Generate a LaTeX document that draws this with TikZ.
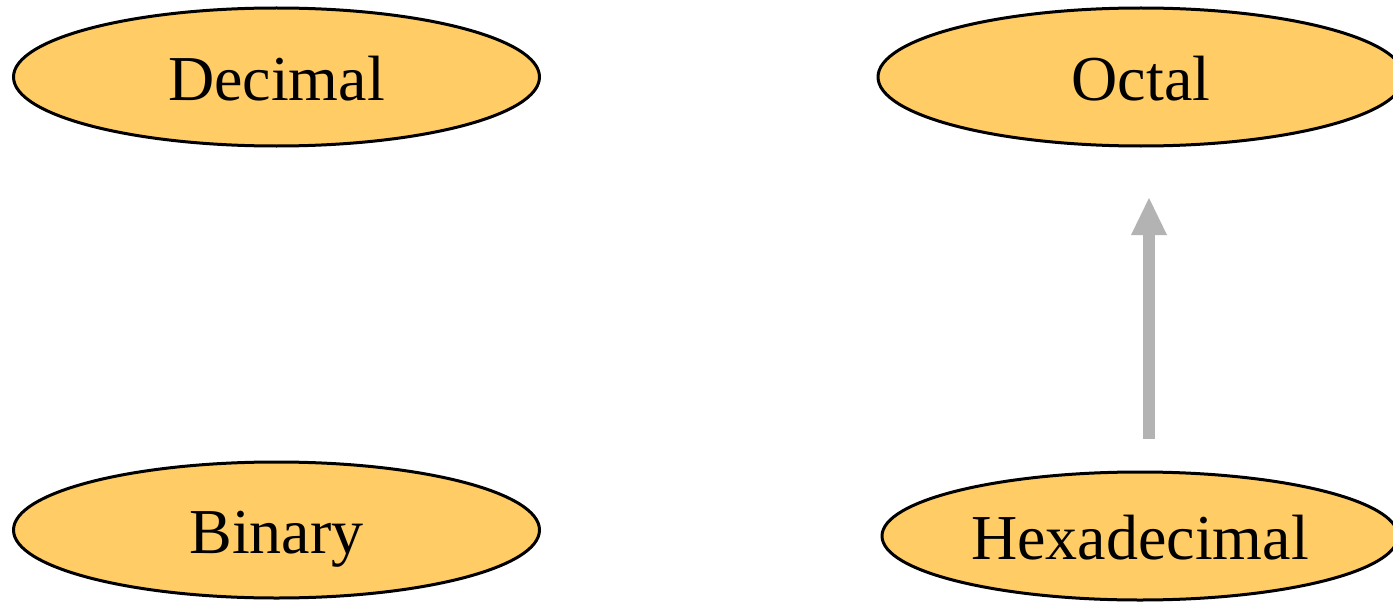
\documentclass[tikz,border=0pt]{standalone}
\usepackage{fontspec}
\setmainfont{Liberation Serif}
\usetikzlibrary{shapes.geometric,arrows.meta}
\definecolor{nodefill}{HTML}{FFCC66}
\definecolor{arrowgray}{HTML}{B3B3B3}
\tikzset{
  numnode/.style={ellipse, draw=black, line width=3pt, fill=nodefill, inner sep=0pt,
    font=\fontsize{64}{70}\selectfont, text height=46pt, text depth=0pt},
  convarrow/.style={draw=arrowgray, line width=12pt,
    -{Triangle[length=37pt,width=36pt,line width=0pt]}}
}
\begin{document}
\begin{tikzpicture}[x=1pt,y=-1pt]
  \useasboundingbox (0,0) rectangle (1393,602);
  \node[numnode, minimum width=526pt, minimum height=138pt] (dec) at (276.5,77) {Decimal};
  \node[numnode, minimum width=526pt, minimum height=138pt] (oct) at (1141,77) {Octal};
  \node[numnode, minimum width=526pt, minimum height=136pt] (bin) at (276.5,530) {Binary};
  \node[numnode, minimum width=516pt, minimum height=128pt] (hex) at (1140,536) {Hexadecimal};
  \draw[convarrow, shorten <=31.5pt, shorten >=50.5pt] ([xshift=9pt]hex.north) -- ([xshift=8pt]oct.south);
\end{tikzpicture}
\end{document}
